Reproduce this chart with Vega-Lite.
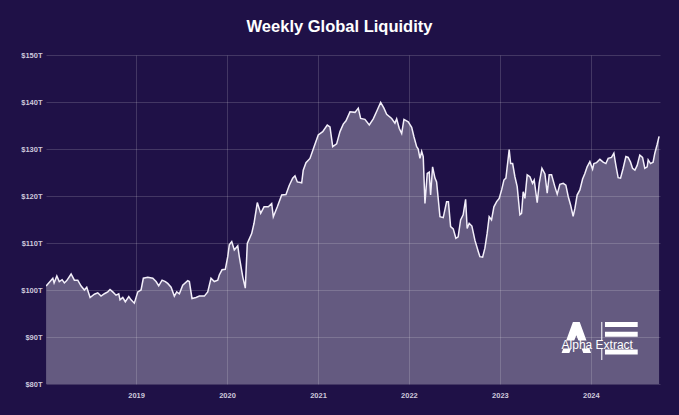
{
  "$schema": "https://vega.github.io/schema/vega-lite/v6.json",
  "width": 614,
  "height": 329,
  "autosize": {"type": "none"},
  "padding": {"left": 46, "top": 55, "right": 19, "bottom": 31},
  "background": "#1f1147",
  "title": {"text": "Weekly Global Liquidity", "font": "Liberation Sans", "fontSize": 16.5, "fontWeight": "bold", "color": "#ffffff", "anchor": "middle", "dx": -13.5, "offset": 16},
  "config": {
    "view": {"stroke": null},
    "axis": {"domain": false, "ticks": false, "labelFont": "Liberation Sans", "labelFontWeight": "bold", "labelFontSize": 7.5, "labelColor": "#cdc8dc", "gridColor": "#ffffff", "gridOpacity": 0.16, "gridWidth": 1}
  },
  "datasets": {"liq": [
    {"t": 2018.011, "v": 100.85}, {"t": 2018.085, "v": 102.5}, {"t": 2018.099, "v": 101.5}, {"t": 2018.129, "v": 103.0},
    {"t": 2018.156, "v": 101.8}, {"t": 2018.187, "v": 102.2}, {"t": 2018.212, "v": 101.5}, {"t": 2018.238, "v": 102.0},
    {"t": 2018.286, "v": 103.4}, {"t": 2018.322, "v": 102.1}, {"t": 2018.359, "v": 102.1}, {"t": 2018.396, "v": 100.85},
    {"t": 2018.432, "v": 100.0}, {"t": 2018.458, "v": 100.6}, {"t": 2018.495, "v": 98.4}, {"t": 2018.542, "v": 99.1},
    {"t": 2018.579, "v": 99.4}, {"t": 2018.615, "v": 98.7}, {"t": 2018.652, "v": 99.2}, {"t": 2018.689, "v": 99.6},
    {"t": 2018.714, "v": 100.1}, {"t": 2018.744, "v": 99.6}, {"t": 2018.780, "v": 98.9}, {"t": 2018.810, "v": 99.2},
    {"t": 2018.824, "v": 97.9}, {"t": 2018.854, "v": 98.4}, {"t": 2018.882, "v": 97.5}, {"t": 2018.920, "v": 98.6},
    {"t": 2018.945, "v": 97.9}, {"t": 2018.981, "v": 97.2}, {"t": 2019.019, "v": 99.6}, {"t": 2019.055, "v": 100.0},
    {"t": 2019.080, "v": 102.5}, {"t": 2019.129, "v": 102.7}, {"t": 2019.184, "v": 102.5}, {"t": 2019.220, "v": 101.8},
    {"t": 2019.249, "v": 100.9}, {"t": 2019.286, "v": 102.1}, {"t": 2019.322, "v": 101.8}, {"t": 2019.348, "v": 101.4},
    {"t": 2019.385, "v": 100.6}, {"t": 2019.421, "v": 98.7}, {"t": 2019.447, "v": 99.6}, {"t": 2019.476, "v": 99.2},
    {"t": 2019.513, "v": 101.0}, {"t": 2019.568, "v": 102.0}, {"t": 2019.586, "v": 101.8}, {"t": 2019.615, "v": 98.2},
    {"t": 2019.659, "v": 98.4}, {"t": 2019.696, "v": 98.7}, {"t": 2019.751, "v": 98.7}, {"t": 2019.788, "v": 99.6},
    {"t": 2019.824, "v": 102.5}, {"t": 2019.860, "v": 101.8}, {"t": 2019.898, "v": 102.1}, {"t": 2019.915, "v": 103.2},
    {"t": 2019.945, "v": 104.3}, {"t": 2019.981, "v": 104.4}, {"t": 2020.008, "v": 107.1}, {"t": 2020.025, "v": 109.6},
    {"t": 2020.052, "v": 110.3}, {"t": 2020.080, "v": 108.5}, {"t": 2020.118, "v": 109.4}, {"t": 2020.135, "v": 107.1},
    {"t": 2020.173, "v": 102.8}, {"t": 2020.201, "v": 100.4}, {"t": 2020.223, "v": 109.9}, {"t": 2020.271, "v": 112.0},
    {"t": 2020.297, "v": 114.2}, {"t": 2020.333, "v": 118.6}, {"t": 2020.370, "v": 116.3}, {"t": 2020.407, "v": 117.7},
    {"t": 2020.454, "v": 117.7}, {"t": 2020.491, "v": 118.4}, {"t": 2020.509, "v": 115.6}, {"t": 2020.553, "v": 117.7},
    {"t": 2020.601, "v": 120.2}, {"t": 2020.648, "v": 120.3}, {"t": 2020.685, "v": 122.3}, {"t": 2020.722, "v": 123.8},
    {"t": 2020.747, "v": 124.3}, {"t": 2020.773, "v": 123.0}, {"t": 2020.821, "v": 122.8}, {"t": 2020.838, "v": 125.5},
    {"t": 2020.868, "v": 127.1}, {"t": 2020.912, "v": 128.0}, {"t": 2020.956, "v": 130.4}, {"t": 2021.003, "v": 133.0},
    {"t": 2021.052, "v": 133.7}, {"t": 2021.102, "v": 135.1}, {"t": 2021.132, "v": 134.7}, {"t": 2021.162, "v": 130.5},
    {"t": 2021.205, "v": 131.1}, {"t": 2021.242, "v": 133.7}, {"t": 2021.278, "v": 135.3}, {"t": 2021.308, "v": 136.0},
    {"t": 2021.352, "v": 137.9}, {"t": 2021.407, "v": 137.8}, {"t": 2021.443, "v": 138.7}, {"t": 2021.469, "v": 136.5},
    {"t": 2021.516, "v": 136.3}, {"t": 2021.564, "v": 135.1}, {"t": 2021.608, "v": 136.4}, {"t": 2021.652, "v": 138.3},
    {"t": 2021.689, "v": 139.9}, {"t": 2021.725, "v": 138.7}, {"t": 2021.755, "v": 137.4}, {"t": 2021.810, "v": 136.5},
    {"t": 2021.846, "v": 135.5}, {"t": 2021.865, "v": 136.4}, {"t": 2021.893, "v": 134.4}, {"t": 2021.920, "v": 133.3},
    {"t": 2021.945, "v": 136.3}, {"t": 2021.992, "v": 135.8}, {"t": 2022.030, "v": 134.6}, {"t": 2022.055, "v": 132.6},
    {"t": 2022.085, "v": 130.5}, {"t": 2022.102, "v": 130.0}, {"t": 2022.121, "v": 128.0}, {"t": 2022.140, "v": 129.5},
    {"t": 2022.157, "v": 128.4}, {"t": 2022.176, "v": 118.4}, {"t": 2022.201, "v": 124.8}, {"t": 2022.223, "v": 125.1},
    {"t": 2022.238, "v": 120.2}, {"t": 2022.260, "v": 126.2}, {"t": 2022.286, "v": 123.8}, {"t": 2022.304, "v": 123.0},
    {"t": 2022.341, "v": 115.6}, {"t": 2022.377, "v": 115.4}, {"t": 2022.414, "v": 118.8}, {"t": 2022.434, "v": 118.8},
    {"t": 2022.458, "v": 113.5}, {"t": 2022.487, "v": 113.0}, {"t": 2022.516, "v": 111.0}, {"t": 2022.541, "v": 111.3},
    {"t": 2022.568, "v": 114.9}, {"t": 2022.596, "v": 116.0}, {"t": 2022.623, "v": 119.3}, {"t": 2022.640, "v": 113.1},
    {"t": 2022.662, "v": 114.2}, {"t": 2022.692, "v": 113.6}, {"t": 2022.725, "v": 110.6}, {"t": 2022.762, "v": 108.2},
    {"t": 2022.780, "v": 107.1}, {"t": 2022.810, "v": 107.0}, {"t": 2022.835, "v": 108.9}, {"t": 2022.860, "v": 112.1},
    {"t": 2022.882, "v": 115.6}, {"t": 2022.908, "v": 114.9}, {"t": 2022.934, "v": 117.7}, {"t": 2022.964, "v": 118.8},
    {"t": 2022.992, "v": 119.5}, {"t": 2023.019, "v": 121.3}, {"t": 2023.044, "v": 123.4}, {"t": 2023.066, "v": 123.8},
    {"t": 2023.091, "v": 128.0}, {"t": 2023.102, "v": 129.9}, {"t": 2023.118, "v": 126.9}, {"t": 2023.140, "v": 126.9},
    {"t": 2023.165, "v": 124.1}, {"t": 2023.190, "v": 122.0}, {"t": 2023.220, "v": 116.0}, {"t": 2023.238, "v": 116.3},
    {"t": 2023.256, "v": 120.9}, {"t": 2023.275, "v": 119.5}, {"t": 2023.300, "v": 124.5}, {"t": 2023.330, "v": 124.1},
    {"t": 2023.359, "v": 122.7}, {"t": 2023.377, "v": 123.4}, {"t": 2023.410, "v": 118.6}, {"t": 2023.432, "v": 122.7},
    {"t": 2023.462, "v": 125.9}, {"t": 2023.495, "v": 124.7}, {"t": 2023.520, "v": 120.6}, {"t": 2023.542, "v": 124.5},
    {"t": 2023.568, "v": 124.5}, {"t": 2023.604, "v": 122.0}, {"t": 2023.630, "v": 120.4}, {"t": 2023.659, "v": 122.5},
    {"t": 2023.696, "v": 122.7}, {"t": 2023.725, "v": 122.3}, {"t": 2023.751, "v": 119.9}, {"t": 2023.777, "v": 118.1},
    {"t": 2023.805, "v": 115.7}, {"t": 2023.824, "v": 117.3}, {"t": 2023.849, "v": 120.2}, {"t": 2023.879, "v": 121.3},
    {"t": 2023.909, "v": 123.6}, {"t": 2023.934, "v": 124.8}, {"t": 2023.959, "v": 126.2}, {"t": 2023.989, "v": 127.3},
    {"t": 2024.019, "v": 125.7}, {"t": 2024.033, "v": 126.9}, {"t": 2024.063, "v": 127.1}, {"t": 2024.099, "v": 127.8},
    {"t": 2024.135, "v": 127.2}, {"t": 2024.165, "v": 126.9}, {"t": 2024.190, "v": 128.0}, {"t": 2024.227, "v": 128.2},
    {"t": 2024.253, "v": 129.1}, {"t": 2024.275, "v": 126.5}, {"t": 2024.300, "v": 123.9}, {"t": 2024.326, "v": 123.8},
    {"t": 2024.355, "v": 125.9}, {"t": 2024.385, "v": 128.4}, {"t": 2024.410, "v": 128.2}, {"t": 2024.436, "v": 127.2},
    {"t": 2024.458, "v": 125.9}, {"t": 2024.484, "v": 125.5}, {"t": 2024.509, "v": 126.5}, {"t": 2024.538, "v": 128.7},
    {"t": 2024.568, "v": 128.2}, {"t": 2024.593, "v": 125.9}, {"t": 2024.619, "v": 126.2}, {"t": 2024.630, "v": 127.7},
    {"t": 2024.656, "v": 126.9}, {"t": 2024.684, "v": 127.2}, {"t": 2024.703, "v": 129.1}, {"t": 2024.728, "v": 130.9},
    {"t": 2024.750, "v": 132.7}
  ],
  "logo": [{"part": "logo"}]},
  "layer": [
    {
      "data": {"name": "liq"},
      "mark": {"type": "area", "fill": "#ffffff", "fillOpacity": 0.31, "clip": true},
      "encoding": {
        "x": {"field": "t", "type": "quantitative", "title": null, "scale": {"domain": [2018.01, 2024.76], "nice": false}, "axis": {"values": [2019, 2020, 2021, 2022, 2023, 2024], "format": "d", "labelPadding": 7}},
        "y": {"field": "v", "type": "quantitative", "title": null, "scale": {"domain": [80, 150], "nice": false, "zero": false}, "axis": {"values": [80, 90, 100, 110, 120, 130, 140, 150], "labelExpr": "'$' + datum.value + 'T'", "labelPadding": 4}}
      }
    },
    {
      "data": {"name": "liq"},
      "mark": {"type": "line", "stroke": "#f3effa", "strokeWidth": 1.5, "clip": true},
      "encoding": {
        "x": {"field": "t", "type": "quantitative"},
        "y": {"field": "v", "type": "quantitative"}
      }
    },
    {
      "data": {"name": "logo"},
      "mark": {"type": "point", "shape": "M-0.22,-1L0.22,-1L0.95,1L0.45,1L0,-0.15L-0.45,1L-0.95,1Z", "size": 961, "filled": true, "fill": "#ffffff", "opacity": 1, "strokeWidth": 0},
      "encoding": {"x": {"datum": 2023.84, "type": "quantitative"}, "y": {"datum": 89.9, "type": "quantitative"}}
    },
    {
      "data": {"name": "logo"},
      "mark": {"type": "rule", "stroke": "#ffffff", "strokeWidth": 1},
      "encoding": {"x": {"datum": 2024.12, "type": "quantitative"}, "y": {"datum": 93.2, "type": "quantitative"}, "y2": {"datum": 85.1}}
    },
    {
      "data": {"name": "logo"},
      "mark": {"type": "rule", "stroke": "#ffffff", "strokeWidth": 5},
      "encoding": {"x": {"datum": 2024.155, "type": "quantitative"}, "x2": {"datum": 2024.515}, "y": {"datum": 92.66, "type": "quantitative"}}
    },
    {
      "data": {"name": "logo"},
      "mark": {"type": "rule", "stroke": "#ffffff", "strokeWidth": 5},
      "encoding": {"x": {"datum": 2024.155, "type": "quantitative"}, "x2": {"datum": 2024.515}, "y": {"datum": 90.6, "type": "quantitative"}}
    },
    {
      "data": {"name": "logo"},
      "mark": {"type": "rule", "stroke": "#ffffff", "strokeWidth": 5},
      "encoding": {"x": {"datum": 2024.155, "type": "quantitative"}, "x2": {"datum": 2024.515}, "y": {"datum": 86.8, "type": "quantitative"}}
    },
    {
      "data": {"name": "logo"},
      "mark": {"type": "rule", "stroke": "#645b80", "strokeWidth": 8},
      "encoding": {"x": {"datum": 2023.69, "type": "quantitative"}, "x2": {"datum": 2024.53}, "y": {"datum": 88.4, "type": "quantitative"}}
    },
    {
      "data": {"name": "logo"},
      "mark": {"type": "text", "text": "Alpha Extract", "font": "Liberation Sans", "fontSize": 12, "color": "#ffffff", "align": "center", "baseline": "middle"},
      "encoding": {"x": {"datum": 2024.07, "type": "quantitative"}, "y": {"datum": 88.4, "type": "quantitative"}}
    }
  ]
}
